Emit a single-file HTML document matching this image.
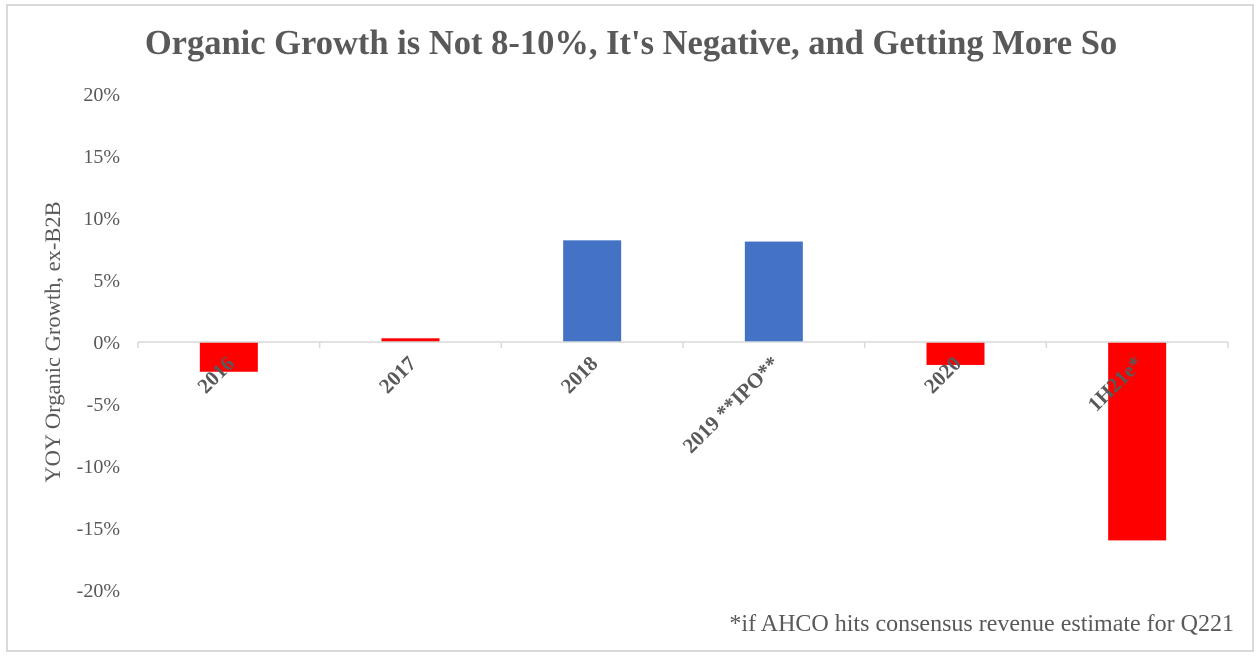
<!DOCTYPE html>
<html><head><meta charset="utf-8"><style>
body{margin:0;background:#fff;}
svg{display:block;font-family:"Liberation Serif",serif;}
</style></head><body>
<svg width="1260" height="656">
<rect x="7" y="5" width="1246" height="646" fill="#fff" stroke="#d9d9d9" stroke-width="2"/>
<text x="631" y="54" text-anchor="middle" font-size="34.5" font-weight="bold" fill="#595959">Organic Growth is Not 8-10%, It's Negative, and Getting More So</text>
<text transform="translate(60,342) rotate(-90)" text-anchor="middle" font-size="22.5" fill="#595959">YOY Organic Growth, ex-B2B</text>
<text x="1234" y="631" text-anchor="end" font-size="24" fill="#595959">*if AHCO hits consensus revenue estimate for Q221</text>
<g id="plot"></g>
</svg>
<script>
const categories=["2016","2017","2018","2019 **IPO**","2020","1H21e*"];
const values=[-2.4,0.3,8.2,8.1,-1.85,-16];
const highlighted=[true,true,false,false,true,true];
const yTicks=[20,15,10,5,0,-5,-10,-15,-20];
const x0=138,x1=1228,yTop=94,yBot=590,vMax=20,vMin=-20;
const bw=(x1-x0)/categories.length;
function y(v){return yTop+(vMax-v)/(vMax-vMin)*(yBot-yTop);}
function xc(i){return x0+bw*(i+0.5);}
const NS="http://www.w3.org/2000/svg";
const g=document.getElementById('plot');
function mk(t,a){const e=document.createElementNS(NS,t);for(const k in a)e.setAttribute(k,a[k]);g.appendChild(e);return e;}
yTicks.forEach(t=>{
 const e=mk('text',{x:120,y:y(t)+7,'text-anchor':'end','font-size':20,fill:'#595959'});
 
 
 e.textContent=t+'%';
});
values.forEach((v,i)=>{
 const top=y(Math.max(v,0)),bot=y(Math.min(v,0));
 const r=mk('rect',{x:xc(i)-29,y:top,width:58,height:Math.max(bot-top,1),fill:highlighted[i]?'#ff0000':'#4472c4'});
 
 
});
const z=y(0);
const ax=mk('line',{x1:x0,y1:z,x2:x1,y2:z,stroke:'#d9d9d9','stroke-width':1.5});


for(let i=0;i<=categories.length;i++){
 const tk=mk('line',{x1:x0+bw*i,y1:z,x2:x0+bw*i,y2:z+6,stroke:'#d9d9d9','stroke-width':1.5});
 
 
}
categories.forEach((c,i)=>{
 const px=xc(i)-4,py=z+12;
 const e=mk('text',{x:0,y:0,transform:`translate(${px},${py}) rotate(-45)`,'text-anchor':'end','dominant-baseline':'hanging','font-size':21,'font-weight':'bold',fill:'#595959'});
 
 
 e.textContent=c;
});
</script>
</body></html>
